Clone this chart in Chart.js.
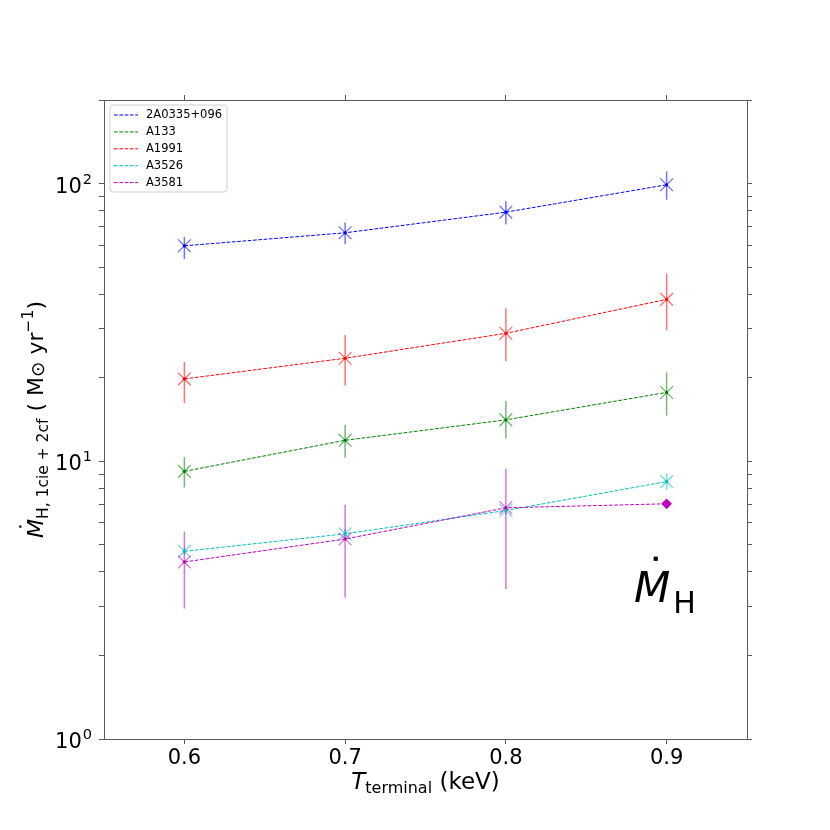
<!DOCTYPE html>
<html>
<head>
<meta charset="utf-8">
<script src="https://cdn.jsdelivr.net/npm/chart.js@4.4.0/dist/chart.umd.min.js"></script>
<style>
  html, body { margin: 0; padding: 0; background: #fff; }
  #wrap { width: 830px; height: 830px; }
</style>
</head>
<body>
<div id="wrap"><canvas id="mdotChart" width="830" height="830"></canvas></div>
<script>
// terminal temperature grid (keV)
const T_TERMINAL = [0.6, 0.7, 0.8, 0.9];
const X_TICKS = [0.6, 0.7, 0.8, 0.9];
const Y_TICKS = [1, 2, 3, 4, 5, 6, 7, 8, 9, 10, 20, 30, 40, 50, 60, 70, 80, 90, 100, 200];
const Y_LABELED = [1, 10, 100];

const CLUSTERS = ['2A0335+096', 'A133', 'A1991', 'A3526', 'A3581'];
const COLORS = ['#0000ff', '#008000', '#ff0000', '#00bfbf', '#bf00bf'];

// Mdot_H (Msun/yr) with lower / upper error bar ends
const MDOT_2A0335 = [59.7, 66.5, 78.9, 99.0];
const LO_2A0335 = [53.5, 60.5, 71.2, 87.5];
const HI_2A0335 = [64.3, 72.4, 86.4, 110.6];

const MDOT_A133 = [9.2, 11.9, 14.1, 17.7];
const LO_A133 = [8.05, 10.3, 12.1, 14.6];
const HI_A133 = [10.35, 13.55, 16.5, 20.9];

const MDOT_A1991 = [19.8, 23.5, 28.9, 38.3];
const LO_A1991 = [16.2, 18.7, 22.9, 29.6];
const HI_A1991 = [22.8, 28.5, 35.6, 47.5];

const MDOT_A3526 = [4.74, 5.48, 6.65, 8.45];
const LO_A3526 = [4.6, 5.3, 6.4, 7.9];
const HI_A3526 = [4.9, 5.7, 6.9, 9.05];

const MDOT_A3581 = [4.34, 5.25, 6.8, 7.03];
const LO_A3581 = [2.95, 3.23, 3.47, null];
const HI_A3581 = [5.58, 6.98, 9.4, null];

const SERIES = [MDOT_2A0335, MDOT_A133, MDOT_A1991, MDOT_A3526, MDOT_A3581];
const LOWS = [LO_2A0335, LO_A133, LO_A1991, LO_A3526, LO_A3581];
const HIGHS = [HI_2A0335, HI_A133, HI_A1991, HI_A3526, HI_A3581];

const FONT = '"DejaVu Sans", "Liberation Sans", sans-serif';
const SPINE = '#595959';

function withAlpha(hex, a) {
  const n = parseInt(hex.slice(1), 16);
  return `rgba(${(n >> 16) & 255},${(n >> 8) & 255},${n & 255},${a})`;
}

function fontOf(r) {
  return `${r.italic ? 'italic ' : ''}${r.size}px ${FONT}`;
}

// draw a run of text pieces (sub/superscripts) along a baseline
function drawRuns(ctx, runs, x, y, align) {
  let total = 0;
  runs.forEach(r => { ctx.font = fontOf(r); r.w = ctx.measureText(r.t).width + (r.dx || 0); total += r.w; });
  let cx = align === 'center' ? x - total / 2 : (align === 'right' ? x - total : x);
  runs.forEach(r => {
    ctx.font = fontOf(r);
    ctx.fillText(r.t, cx + (r.dx || 0), y + (r.dy || 0));
    if (r.dot) {
      const d = Math.max(2, r.size * 0.1);
      ctx.fillRect(cx + r.w * 0.6 - d / 2, y - r.size * 1.08, d, d);
    }
    cx += r.w;
  });
}

const datasets = CLUSTERS.map((name, i) => {
  const last = i === CLUSTERS.length - 1;
  return {
    label: name,
    data: T_TERMINAL.map((t, j) => ({ x: t, y: SERIES[i][j] })),
    lo: LOWS[i],
    hi: HIGHS[i],
    borderColor: COLORS[i],
    borderWidth: 1,
    borderDash: [3.7, 1.6],
    fill: false,
    tension: 0,
    pointStyle: last ? ['crossRot', 'crossRot', 'crossRot', 'rectRot'] : 'crossRot',
    pointRadius: last ? [9, 9, 9, 4.5] : 9,
    pointBorderWidth: 1.2,
    pointBorderColor: last ? [withAlpha(COLORS[i], 0.6), withAlpha(COLORS[i], 0.6), withAlpha(COLORS[i], 0.6), COLORS[i]] : withAlpha(COLORS[i], 0.6),
    pointBackgroundColor: COLORS[i],
    order: CLUSTERS.length - i,
  };
});

const errorBars = {
  id: 'errorBars',
  beforeDatasetsDraw(chart) {
    const { ctx, scales: { x, y } } = chart;
    ctx.save();
    chart.data.datasets.forEach((ds, i) => {
      ctx.strokeStyle = withAlpha(COLORS[i], 0.55);
      ctx.lineWidth = 1.5;
      T_TERMINAL.forEach((t, j) => {
        if (ds.lo[j] == null) return;
        const px = x.getPixelForValue(t);
        ctx.beginPath();
        ctx.moveTo(px, y.getPixelForValue(ds.lo[j]));
        ctx.lineTo(px, y.getPixelForValue(ds.hi[j]));
        ctx.stroke();
      });
    });
    ctx.restore();
  },
  afterDatasetsDraw(chart) {
    const { ctx, scales: { x, y } } = chart;
    ctx.save();
    chart.data.datasets.forEach((ds, i) => {
      ctx.fillStyle = COLORS[i];
      ds.data.forEach(p => {
        ctx.beginPath();
        ctx.arc(x.getPixelForValue(p.x), y.getPixelForValue(p.y), 1.6, 0, Math.PI * 2);
        ctx.fill();
      });
    });
    ctx.restore();
  },
};

const annotations = {
  id: 'annotations',
  afterDraw(chart) {
    const { ctx, chartArea, scales: { y } } = chart;
    ctx.save();
    ctx.fillStyle = '#000';
    ctx.textBaseline = 'alphabetic';

    // y tick labels 10^k
    Y_LABELED.forEach(v => {
      const py = y.getPixelForValue(v);
      const k = String(Math.round(Math.log10(v)));
      drawRuns(ctx, [{ t: '10', size: 21 }, { t: k, size: 14.5, dy: -9, dx: 1 }], chartArea.left - 12, py + 9, 'right');
    });

    // x title
    drawRuns(ctx, [
      { t: 'T', size: 23, italic: true },
      { t: 'terminal', size: 16, dy: 4 },
      { t: ' (keV)', size: 23 },
    ], (chartArea.left + chartArea.right) / 2, 789, 'center');

    // y title
    ctx.save();
    ctx.translate(43, (chartArea.top + chartArea.bottom) / 2);
    ctx.rotate(-Math.PI / 2);
    drawRuns(ctx, [
      { t: 'M', size: 22, italic: true, dot: true },
      { t: 'H, 1cie + 2cf', size: 15.5, dy: 5 },
      { t: ' ( M', size: 22 },
      { t: '\u2299', size: 18.5, dy: 1 },
      { t: ' yr', size: 22 },
      { t: '\u22121', size: 15.5, dy: -10 },
      { t: ')', size: 22 },
    ], 0, 0, 'center');
    ctx.restore();

    // big panel label
    drawRuns(ctx, [
      { t: 'M', size: 42, italic: true, dot: true },
      { t: 'H', size: 30, dy: 11, dx: 3 },
    ], 634, 602, 'left');

    // legend
    const lx = chartArea.left + 6, ly = chartArea.top + 5, lw = 117, lh = 87;
    ctx.beginPath();
    ctx.roundRect(lx, ly, lw, lh, 3);
    ctx.fillStyle = 'rgba(255,255,255,0.8)';
    ctx.fill();
    ctx.strokeStyle = '#d0d0d0';
    ctx.lineWidth = 1;
    ctx.stroke();
    ctx.font = `11.5px ${FONT}`;
    ctx.textBaseline = 'middle';
    chart.data.datasets.forEach((ds, i) => {
      const ry = ly + 10 + i * 16.9;
      ctx.strokeStyle = ds.borderColor;
      ctx.setLineDash([3.7, 1.6]);
      ctx.beginPath();
      ctx.moveTo(lx + 4, ry);
      ctx.lineTo(lx + 28, ry);
      ctx.stroke();
      ctx.setLineDash([]);
      ctx.fillStyle = '#000';
      ctx.fillText(ds.label, lx + 36, ry + 0.5);
    });
    ctx.restore();
  },
};

function axisX(position, size, showLabels) {
  return {
    type: 'linear',
    position,
    min: 0.55,
    max: 0.95,
    afterBuildTicks: s => { s.ticks = X_TICKS.map(v => ({ value: v })); },
    afterFit: s => { s.height = size; },
    ticks: {
      autoSkip: false,
      padding: 2,
      color: '#000',
      font: { family: FONT, size: 21 },
      callback: v => showLabels ? v.toFixed(1) : '',
    },
    grid: { drawOnChartArea: false, drawTicks: true, tickLength: 5, color: SPINE },
    border: { display: true, color: SPINE, width: 1 },
  };
}

function axisY(position, size) {
  return {
    type: 'logarithmic',
    position,
    min: 1,
    max: 200,
    afterBuildTicks: s => { s.ticks = Y_TICKS.map(v => ({ value: v })); },
    afterFit: s => { s.width = size; },
    ticks: { autoSkip: false, callback: () => '' },
    grid: { drawOnChartArea: false, drawTicks: true, tickLength: 5, color: SPINE },
    border: { display: true, color: SPINE, width: 1 },
  };
}

new Chart(document.getElementById('mdotChart'), {
  type: 'line',
  data: { datasets },
  options: {
    responsive: false,
    animation: false,
    layout: { padding: 0 },
    plugins: { legend: { display: false }, tooltip: { enabled: false } },
    scales: {
      x: axisX('bottom', 91, true),
      x2: axisX('top', 100, false),
      y: axisY('left', 104),
      y2: axisY('right', 83),
    },
  },
  plugins: [errorBars, annotations],
});
</script>
</body>
</html>
